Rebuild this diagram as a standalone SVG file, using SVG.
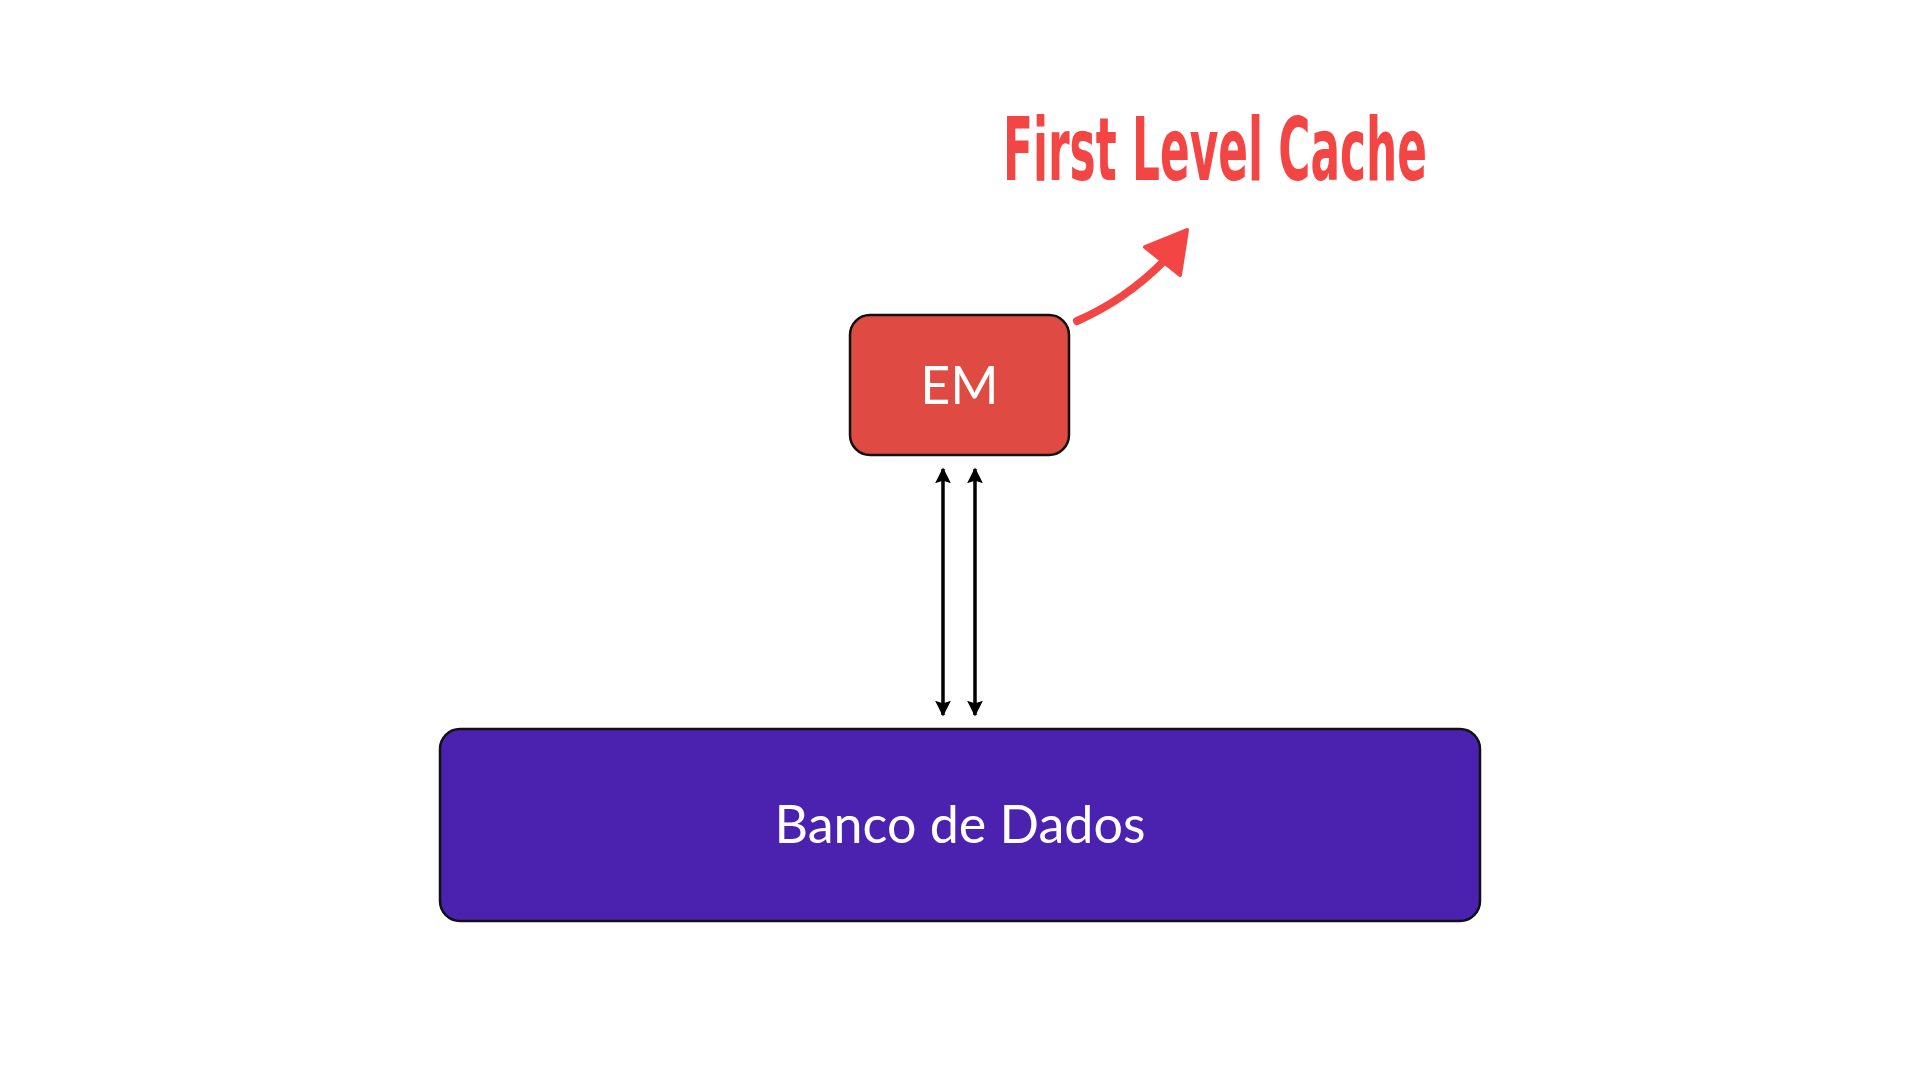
<svg xmlns="http://www.w3.org/2000/svg" width="1920" height="1080" viewBox="0 0 1920 1080">
  <defs>
    <style>
      .box { stroke: #111; stroke-width: 2.5; }
      .label { font-family: "Lato", "Open Sans", "Liberation Sans", sans-serif; fill: #fff; text-anchor: middle; }
      .title { font-family: "DejaVu Sans", "Liberation Sans", sans-serif; font-weight: bold; font-stretch: condensed; fill: #F44545; }
      .conn { stroke: #000; stroke-width: 3.5; fill: none; }
    </style>
    <marker id="ah" viewBox="0 0 10 10" refX="9" refY="5" markerWidth="4.5" markerHeight="4.5" orient="auto-start-reverse" markerUnits="strokeWidth">
      <path d="M0,0 L10,5 L0,10 L1.5,5 Z" fill="#000"/>
    </marker>
  </defs>
  <rect width="1920" height="1080" fill="#fff"/>

  <g id="title">
    <text class="title" x="1003" y="180" font-size="88" textLength="424" lengthAdjust="spacingAndGlyphs">First Level Cache</text>
  </g>

  <g id="em">
    <rect class="box" x="850" y="315" width="219" height="140" rx="20" fill="#DF4B42"/>
    <text class="label" x="959.5" y="404" font-size="52">EM</text>
  </g>

  <g id="banco">
    <rect class="box" x="440" y="729" width="1040" height="192" rx="20" fill="#4B22AF"/>
    <text class="label" x="960" y="843" font-size="52">Banco de Dados</text>
  </g>

  <g id="connectors">
    <line class="conn" x1="943" y1="469" x2="943" y2="715" marker-start="url(#ah)" marker-end="url(#ah)"/>
    <line class="conn" x1="975" y1="469" x2="975" y2="715" marker-start="url(#ah)" marker-end="url(#ah)"/>
    <path d="M1077,321 Q1125,300 1163,262" stroke="#F44545" stroke-width="8" fill="none" stroke-linecap="round"/>
    <path d="M1187,230 L1145,247 L1180,275 Z" fill="#F44545" stroke="#F44545" stroke-width="4" stroke-linejoin="round"/>
  </g>
</svg>
